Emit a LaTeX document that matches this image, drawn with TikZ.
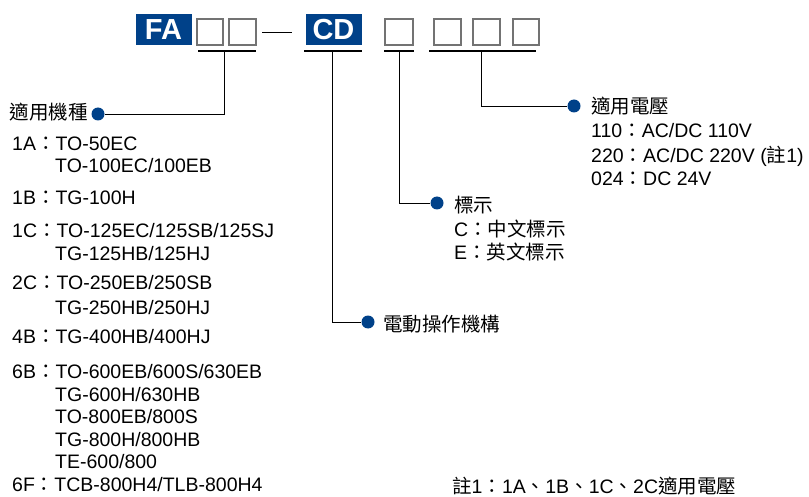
\documentclass[tikz,border=0pt]{standalone}
\usepackage{fontspec}
\setmainfont{Liberation Sans}
\newfontfamily\cjk{Noto Sans CJK TC}
\usepackage{xcolor}
\usepackage{tikz}
\usetikzlibrary{positioning}
\definecolor{codeblue}{RGB}{0,65,137}
\newcommand{\fc}{{\cjk ：}}
\newcommand{\dun}{{\cjk 、}}

\begin{document}
\begin{tikzpicture}
                \tikzset{x={(1pt, 0pt)}, y={(0pt, -1pt)}}
                \tikzset{
                    codebox/.style={fill=codeblue, text=white, inner sep=0pt,
                        font=\fontsize{29}{29}\selectfont\bfseries,
                        minimum width=56pt, minimum height=31pt},
                    slot/.style={draw=black!55, line width=1.2pt},
                    dot/.style={circle, fill=codeblue, inner sep=0pt, minimum size=13pt},
                    txt/.style={inner sep=0pt, anchor=base west, font=\fontsize{19.5}{23}\selectfont},
                    bar/.style={line width=1.2pt},
                    lead/.style={line width=0.9pt}
                }
                \useasboundingbox (0, 0) rectangle (809, 497);
                % code boxes
                \node[codebox] (fa) at (163.5, 29.5) {FA};
                \draw[slot] (197, 19) rectangle (223, 45) node[midway] (s1) {};
                \draw[slot] (229, 19) rectangle (256, 45) node[midway] (s2) {};
                \coordinate (dl) at (262, 32);
                \coordinate (dr) at (292, 32);
                \draw[lead] (dl) -- (dr);
                \node[codebox] (cd) at (333.5, 29.5) {CD};
                \draw[slot] (385, 19) rectangle (413, 45) node[midway] (s3) {};
                \draw[slot] (434, 19) rectangle (461, 45) node[midway] (v1) {};
                \draw[slot] (473, 19) rectangle (500, 45) node[midway] (v2) {};
                \draw[slot] (513, 19) rectangle (539, 45) node[midway] (v3) {};
                % underlines
                \coordinate (u1) at (224, 51);
                \coordinate (u2) at (332, 51);
                \coordinate (u3) at (399, 51);
                \coordinate (u4) at (481, 51);
                \draw[bar] (198, 51) -- (256, 51);
                \draw[bar] (304, 51) -- (362, 51);
                \draw[bar] (384, 51) -- (414, 51);
                \draw[bar] (429, 51) -- (536, 51);
                % dots
                \node[dot] (d1) at ( 98, 114) {};
                \node[dot] (d2) at (368, 322) {};
                \node[dot] (d3) at (437, 203) {};
                \node[dot] (d4) at (574, 106) {};
                \draw[lead] (u1) |- (d1);
                \draw[lead] (u2) |- (d2);
                \draw[lead] (u3) |- (d3);
                \draw[lead] (u4) |- (d4);
                % models
                \node[txt, anchor=base east] (model) at (88, 120) {\cjk 適用機種};
                \node[txt] (m1)  at (12, 151) {1A\fc TO-50EC};
                \node[txt] (m2)  at (55, 173) {TO-100EC/100EB};
                \node[txt] (m3)  at (12, 205) {1B\fc TG-100H};
                \node[txt] (m4)  at (12, 238) {1C\fc TO-125EC/125SB/125SJ};
                \node[txt] (m5)  at (55, 261) {TG-125HB/125HJ};
                \node[txt] (m6)  at (12, 290) {2C\fc TO-250EB/250SB};
                \node[txt] (m7)  at (55, 315) {TG-250HB/250HJ};
                \node[txt] (m8)  at (12, 343) {4B\fc TG-400HB/400HJ};
                \node[txt] (m9)  at (12, 378) {6B\fc TO-600EB/600S/630EB};
                \node[txt] (m10) at (55, 401) {TG-600H/630HB};
                \node[txt] (m11) at (55, 423) {TO-800EB/800S};
                \node[txt] (m12) at (55, 446) {TG-800H/800HB};
                \node[txt] (m13) at (55, 468) {TE-600/800};
                \node[txt] (m14) at (12, 491) {6F\fc TCB-800H4/TLB-800H4};
                % actuator
                \node[txt] (act) at (383, 331) {\cjk 電動操作機構};
                % sign
                \node[txt] (sign) at (454, 213) {\cjk 標示};
                \node[txt] (sc)   at (454, 237) {C\fc{\cjk 中文標示}};
                \node[txt] (se)   at (454, 260) {E\fc{\cjk 英文標示}};
                % voltage
                \node[txt] (volt) at (591, 114) {\cjk 適用電壓};
                \node[txt] (v110) at (591, 138) {110\fc AC/DC 110V};
                \node[txt] (v220) at (591, 163) {220\fc AC/DC 220V ({\cjk 註}1)};
                \node[txt] (v024) at (591, 186) {024\fc DC 24V};
                % note
                \node[txt] (note) at (452, 493) {{\cjk 註}1\fc 1A\dun 1B\dun 1C\dun 2C{\cjk 適用電壓}};
            \end{tikzpicture}
\end{document}
